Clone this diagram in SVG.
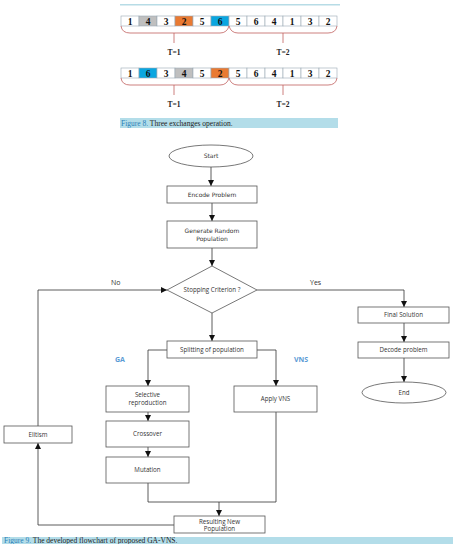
<svg xmlns="http://www.w3.org/2000/svg" width="454" height="544" viewBox="0 0 454 544">
<style>
.cell{stroke:#9aa9b4;stroke-width:0.6}
.num{font-family:"Liberation Serif",serif;font-weight:bold;font-size:9.5px;text-anchor:middle;fill:#111}
.brace{fill:none;stroke:#c0605e;stroke-width:0.8}
.tl{font-family:"Liberation Serif",serif;font-weight:bold;font-size:7.5px;text-anchor:middle;fill:#222}
.box{fill:#fff;stroke:#555;stroke-width:0.8}
.v{font-family:"DejaVu Sans",sans-serif;font-size:6px;text-anchor:middle;fill:#333}
.c{font-family:"Open Sans",sans-serif;font-size:6.2px;text-anchor:middle;fill:#333}
.lbl{font-family:"Open Sans",sans-serif;font-size:7px;fill:#333}
.alg{font-family:"Open Sans",sans-serif;font-weight:bold;font-size:7px;fill:#5b9bd5}
.con{fill:none;stroke:#333;stroke-width:0.8}
.cap{font-family:"Liberation Serif",serif;font-size:7.5px;fill:#222}
</style>
<defs>
<marker id="ah" viewBox="0 0 10 10" refX="10" refY="5" markerWidth="6" markerHeight="6" markerUnits="userSpaceOnUse" orient="auto">
<path d="M0,0 L10,5 L0,10 z" fill="#111"/>
</marker>
</defs>
<rect x="120" y="4" width="220" height="1.5" fill="#b7dce6"/>
<g id="row1">
<rect class="cell" x="121" y="16" width="18" height="10" fill="#fff"/>
<rect class="cell" x="139" y="16" width="18" height="10" fill="#bfbfbf"/>
<rect class="cell" x="157" y="16" width="18" height="10" fill="#fff"/>
<rect class="cell" x="175" y="16" width="18" height="10" fill="#e97a32"/>
<rect class="cell" x="193" y="16" width="18" height="10" fill="#fff"/>
<rect class="cell" x="211" y="16" width="18" height="10" fill="#0aa6e0"/>
<rect class="cell" x="229" y="16" width="18" height="10" fill="#fff"/>
<rect class="cell" x="247" y="16" width="18" height="10" fill="#fff"/>
<rect class="cell" x="265" y="16" width="18" height="10" fill="#fff"/>
<rect class="cell" x="283" y="16" width="18" height="10" fill="#fff"/>
<rect class="cell" x="301" y="16" width="18" height="10" fill="#fff"/>
<rect class="cell" x="319" y="16" width="18" height="10" fill="#fff"/>
<text class="num" x="130" y="24.5">1</text>
<text class="num" x="148" y="24.5">4</text>
<text class="num" x="166" y="24.5">3</text>
<text class="num" x="184" y="24.5">2</text>
<text class="num" x="202" y="24.5">5</text>
<text class="num" x="220" y="24.5">6</text>
<text class="num" x="238" y="24.5">5</text>
<text class="num" x="256" y="24.5">6</text>
<text class="num" x="274" y="24.5">4</text>
<text class="num" x="292" y="24.5">1</text>
<text class="num" x="310" y="24.5">3</text>
<text class="num" x="328" y="24.5">2</text>
<path class="brace" d="M121,26 Q122,33 130,33 L220,33 Q227,33 229,26 Q231,33 238,33 L328,33 Q336,33 337,26 M174,33 L174,43 M283,33 L283,43"/>
<text class="tl" x="174" y="55">T=1</text>
<text class="tl" x="283" y="55">T=2</text>
</g>
<g id="row2">
<rect class="cell" x="121" y="68" width="18" height="10" fill="#fff"/>
<rect class="cell" x="139" y="68" width="18" height="10" fill="#0aa6e0"/>
<rect class="cell" x="157" y="68" width="18" height="10" fill="#fff"/>
<rect class="cell" x="175" y="68" width="18" height="10" fill="#bfbfbf"/>
<rect class="cell" x="193" y="68" width="18" height="10" fill="#fff"/>
<rect class="cell" x="211" y="68" width="18" height="10" fill="#e97a32"/>
<rect class="cell" x="229" y="68" width="18" height="10" fill="#fff"/>
<rect class="cell" x="247" y="68" width="18" height="10" fill="#fff"/>
<rect class="cell" x="265" y="68" width="18" height="10" fill="#fff"/>
<rect class="cell" x="283" y="68" width="18" height="10" fill="#fff"/>
<rect class="cell" x="301" y="68" width="18" height="10" fill="#fff"/>
<rect class="cell" x="319" y="68" width="18" height="10" fill="#fff"/>
<text class="num" x="130" y="76.5">1</text>
<text class="num" x="148" y="76.5">6</text>
<text class="num" x="166" y="76.5">3</text>
<text class="num" x="184" y="76.5">4</text>
<text class="num" x="202" y="76.5">5</text>
<text class="num" x="220" y="76.5">2</text>
<text class="num" x="238" y="76.5">5</text>
<text class="num" x="256" y="76.5">6</text>
<text class="num" x="274" y="76.5">4</text>
<text class="num" x="292" y="76.5">1</text>
<text class="num" x="310" y="76.5">3</text>
<text class="num" x="328" y="76.5">2</text>
<path class="brace" d="M121,78 Q122,85 130,85 L220,85 Q227,85 229,78 Q231,85 238,85 L328,85 Q336,85 337,78 M174,85 L174,95 M283,85 L283,95"/>
<text class="tl" x="174" y="107">T=1</text>
<text class="tl" x="283" y="107">T=2</text>
</g>
<g id="caption8">
<rect x="120" y="118" width="218" height="10" fill="#b3dde9"/>
<text class="cap" x="121" y="126"><tspan fill="#2a7fb8">Figure 8.</tspan> Three exchanges operation.</text>
</g>
<g id="connectors">
<path class="con" d="M211,167 L211,186" marker-end="url(#ah)"/>
<path class="con" d="M212,203 L212,221" marker-end="url(#ah)"/>
<path class="con" d="M212,248 L212,266" marker-end="url(#ah)"/>
<path class="con" d="M212,313 L212,341" marker-end="url(#ah)"/>
<path class="con" d="M257,290 L404,290 L404,307" marker-end="url(#ah)"/>
<path class="con" d="M404,323 L404,342" marker-end="url(#ah)"/>
<path class="con" d="M404,358 L404,382" marker-end="url(#ah)"/>
<path class="con" d="M167,350 L148,350 L148,386" marker-end="url(#ah)"/>
<path class="con" d="M257,350 L276,350 L276,386" marker-end="url(#ah)"/>
<path class="con" d="M148,412 L148,421" marker-end="url(#ah)"/>
<path class="con" d="M148,447 L148,457" marker-end="url(#ah)"/>
<path class="con" d="M148,483 L148,502 L276,502 L276,412"/>
<path class="con" d="M219,502 L219,516" marker-end="url(#ah)"/>
<path class="con" d="M174,525 L38,525 L38,443" marker-end="url(#ah)"/>
<path class="con" d="M38,426 L38,290 L167,290" marker-end="url(#ah)"/>
</g>
<g id="start"><ellipse class="box" cx="211" cy="156" rx="42" ry="11"/><text class="v" x="211" y="158">Start</text></g>
<g id="encode"><rect class="box" x="167" y="186" width="90" height="17"/><text class="v" x="212" y="196.5">Encode Problem</text></g>
<g id="generate"><rect class="box" x="167" y="221" width="90" height="27"/><text class="v" x="212" y="232.5">Generate Random</text><text class="v" x="212" y="241">Population</text></g>
<g id="criterion"><path class="box" d="M212,266 L257,290 L212,313 L167,290 Z"/><text class="c" x="212" y="292">Stopping Criterion ?</text></g>
<text class="lbl" x="111" y="285">No</text>
<text class="lbl" x="310" y="285">Yes</text>
<g id="final"><rect class="box" x="358" y="307" width="91" height="16"/><text class="c" x="403.5" y="317">Final Solution</text></g>
<g id="decode"><rect class="box" x="358" y="342" width="91" height="16"/><text class="c" x="403.5" y="352">Decode problem</text></g>
<g id="end"><ellipse class="box" cx="404" cy="392.5" rx="42" ry="10.5"/><text class="c" x="404" y="394.5">End</text></g>
<g id="splitting"><rect class="box" x="167" y="341" width="90" height="17"/><text class="c" x="212" y="351.5">Splitting of population</text></g>
<text class="alg" x="115" y="361.5">GA</text>
<text class="alg" x="294" y="361.5">VNS</text>
<g id="selective"><rect class="box" x="106" y="386" width="83" height="26"/><text class="c" x="147.5" y="396.5">Selective</text><text class="c" x="147.5" y="404.5">reproduction</text></g>
<g id="applyvns"><rect class="box" x="234" y="386" width="83" height="26"/><text class="c" x="275.5" y="400.5">Apply VNS</text></g>
<g id="crossover"><rect class="box" x="106" y="421" width="83" height="26"/><text class="c" x="147.5" y="436">Crossover</text></g>
<g id="mutation"><rect class="box" x="106" y="457" width="83" height="26"/><text class="c" x="147.5" y="472">Mutation</text></g>
<g id="elitism"><rect class="box" x="4" y="426" width="68" height="17"/><text class="c" x="38" y="436.5">Elitism</text></g>
<g id="resulting"><rect class="box" x="174" y="516" width="91" height="17"/><text class="c" x="219.5" y="523.5">Resulting New</text><text class="c" x="219.5" y="531">Population</text></g>
<g id="caption9">
<rect x="2" y="537" width="451" height="7" fill="#b3dde9"/>
<text class="cap" x="4" y="542.5" font-size="6.5"><tspan fill="#2a7fb8">Figure 9.</tspan> The developed flowchart of proposed GA-VNS.</text>
</g>
</svg>
